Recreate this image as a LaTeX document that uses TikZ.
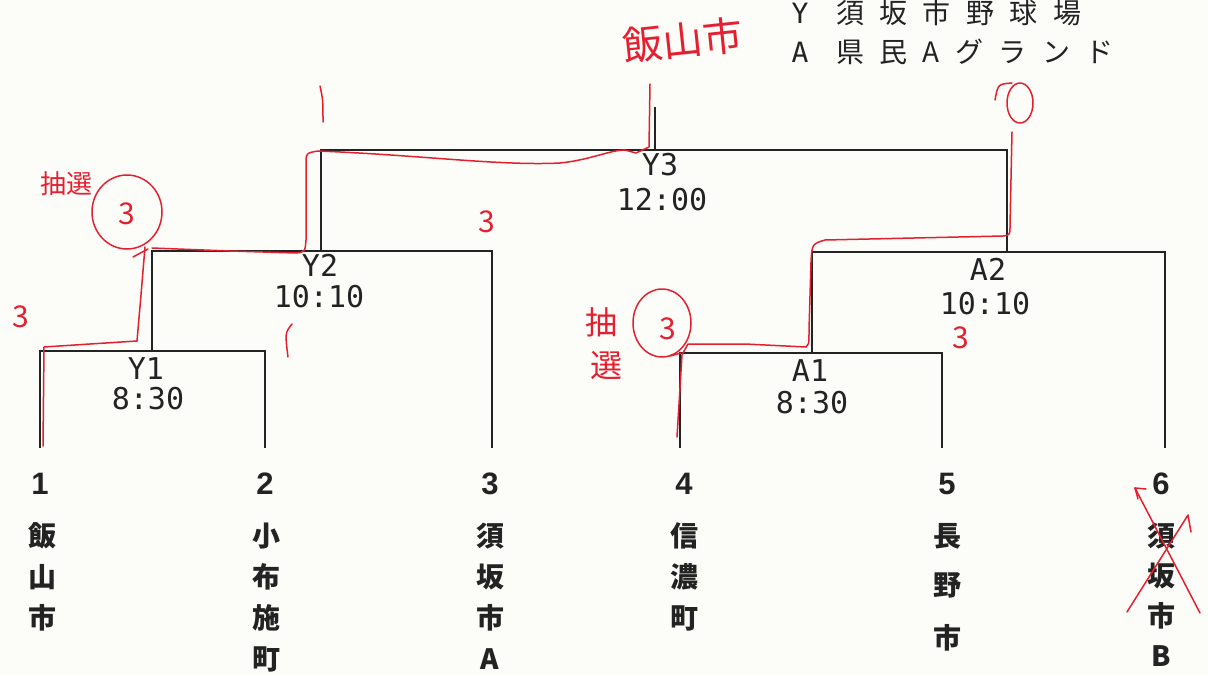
\documentclass[tikz,border=0pt]{standalone}
\usepackage{fontspec}
\newfontfamily\jp{Noto Sans CJK JP}
\newfontfamily\jpls[LetterSpace=55]{Noto Sans CJK JP}
\newfontfamily\mono{DejaVu Sans Mono}
\newfontfamily\lat{Liberation Sans}
\definecolor{handred}{RGB}{228,32,48}
\definecolor{paper}{RGB}{252,252,249}
\definecolor{inkblack}{RGB}{35,35,35}
\begin{document}
\begin{tikzpicture}[x=1pt,y=-1pt,
  bracket/.style={draw=inkblack, line width=1.4pt},
  ink/.style={draw=handred, line width=1.5pt, line cap=round, line join=round},
  matchlbl/.style={font=\mono\fontsize{30}{32}\selectfont, text=inkblack, inner sep=0pt},
  seednum/.style={font=\lat\bfseries\fontsize{31}{33}\selectfont, text=inkblack, inner sep=0pt},
  teamch/.style={font=\jp\bfseries\fontsize{28}{30}\selectfont, text=inkblack, inner sep=0pt},
  legendkey/.style={font=\mono\fontsize{28}{30}\selectfont, text=inkblack, inner sep=0pt},
  legendtxt/.style={font=\jpls\fontsize{28}{30}\selectfont, text=inkblack, inner sep=0pt, anchor=west},
  note/.style={text=handred, inner sep=0pt}
]
\fill[paper] (0,0) rectangle (1208,675);
\useasboundingbox (0,0) rectangle (1208,675);

% bracket points
\coordinate (t1) at (40,448);
\coordinate (t2) at (265,448);
\coordinate (t3) at (492,448);
\coordinate (t4) at (680,448);
\coordinate (t5) at (942,448);
\coordinate (t6) at (1165,448);
\coordinate (y1) at (152,351);
\coordinate (y2) at (321,251);
\coordinate (y3) at (655,150);
\coordinate (a1) at (812,353);
\coordinate (a2) at (1007,252);
\coordinate (top) at (655,107);

\draw[bracket] (t1) |- (y1) -| (t2);
\draw[bracket] (y1) |- (y2) -| (t3);
\draw[bracket] (y2) |- (y3) -| (a2);
\draw[bracket] (a1) |- (a2) -| (t6);
\draw[bracket] (t4) |- (a1) -| (t5);
\draw[bracket] (y3) -- (top);

% match labels
\node[matchlbl] (lY1) at (146,369) {Y1};
\node[matchlbl] (tY1) at (148,399) {8:30};
\node[matchlbl] (lY2) at (320,265) {Y2};
\node[matchlbl] (tY2) at (319,297) {10:10};
\node[matchlbl] (lY3) at (660,165) {Y3};
\node[matchlbl] (tY3) at (662,200) {12:00};
\node[matchlbl] (lA2) at (988,269) {A2};
\node[matchlbl] (tA2) at (985,304) {10:10};
\node[matchlbl] (lA1) at (810,371) {A1};
\node[matchlbl] (tA1) at (812,403) {8:30};

% seeds
\node[seednum] (s1) at (40,484) {1};
\node[seednum] (s2) at (265,484) {2};
\node[seednum] (s3) at (490,484) {3};
\node[seednum] (s4) at (684,484) {4};
\node[seednum] (s5) at (947,484) {5};
\node[seednum] (s6) at (1161,484) {6};

% team names
\foreach \c [count=\i] in {飯,山,市}
  \node[teamch] (na\i) at (42,{536+41*(\i-1)}) {\c};
\foreach \c [count=\i] in {小,布,施,町}
  \node[teamch] (nb\i) at (266,{536+41*(\i-1)}) {\c};
\foreach \c [count=\i] in {須,坂,市,A}
  \node[teamch] (nc\i) at (490,{536+41*(\i-1)}) {\c};
\foreach \c [count=\i] in {信,濃,町}
  \node[teamch] (nd\i) at (684,{536+41*(\i-1)}) {\c};
\node[teamch] (ne1) at (947,536) {長};
\node[teamch] (ne2) at (947,585) {野};
\node[teamch] (ne3) at (947,638) {市};
\foreach \c [count=\i] in {須,坂,市,B}
  \node[teamch] (nf\i) at (1161,{536+40*(\i-1)}) {\c};

% legend
\node[legendkey] (legY) at (800,13) {Y};
\node[legendtxt] (legYt) at (836,13) {須坂市野球場};
\node[legendkey] (legA) at (800,52) {A};
\node[legendtxt] (legAt) at (836,52) {県民Aグランド};

% red handwriting
\node[note, font=\jp\fontsize{40}{40}\selectfont, rotate=6] (hw1) at (683,40) {飯山市};
\node[note, font=\jp\fontsize{26}{26}\selectfont] (hw2) at (66,184) {抽選};
\node[note, font=\jp\fontsize{32}{32}\selectfont] (hw3a) at (601,322) {抽};
\node[note, font=\jp\fontsize{32}{32}\selectfont] (hw3b) at (606,366) {選};
\node[note, font=\jp\fontsize{30}{30}\selectfont] (r3a) at (21,317) {3};
\node[note, font=\jp\fontsize{30}{30}\selectfont] (r3b) at (487,222) {3};
\node[note, font=\jp\fontsize{30}{30}\selectfont] (r3c) at (961,338) {3};
\node[note, font=\jp\fontsize{30}{30}\selectfont] (r3d) at (127,214) {3};
\node[note, font=\jp\fontsize{30}{30}\selectfont] (r3e) at (668,329) {3};
\draw[ink] (127,212) ellipse [x radius=35pt, y radius=37pt];
\draw[ink] (662,323) ellipse [x radius=29pt, y radius=34pt];
\draw[ink] (1020,103) ellipse [x radius=13pt, y radius=20pt];
\draw[ink] (995,100) .. controls (998,84) .. (1012,83);

% red winner paths
\draw[ink] (43,446) -- (44,347) -- (90,344) -- (137,341) -- (141,295) -- (145,247);
\draw[ink] (133,257) -- (148,249);
\draw[ink] (152,248) -- (230,251) -- (296,253) .. controls (305,252) .. (306,240)
  -- (306,165) .. controls (306,153) .. (318,151)
  .. controls (420,155) and (500,166) .. (560,163)
  .. controls (590,160) and (610,150) .. (625,150) -- (636,153) -- (649,147) -- (650,84);
\draw[ink] (677,437) -- (682,355) -- (688,344) -- (745,344) -- (806,347) .. controls (809,345) .. (809,330)
  -- (811,262) .. controls (812,244) .. (825,240) -- (1003,236)
  .. controls (1010,235) .. (1010,226) -- (1012,132);
\draw[ink] (670,356) -- (681,353);

\draw[ink] (320,86) .. controls (323,100) .. (323,122);
\draw[ink] (292,324) .. controls (285,333) .. (288,357);

% cross on team 6
\draw[ink] (1135,488) -- (1200,613);
\draw[ink] (1135,488) -- (1146,489);
\draw[ink] (1135,488) -- (1138,499);
\draw[ink] (1127,612) -- (1188,515) -- (1191,532);
\end{tikzpicture}
\end{document}
